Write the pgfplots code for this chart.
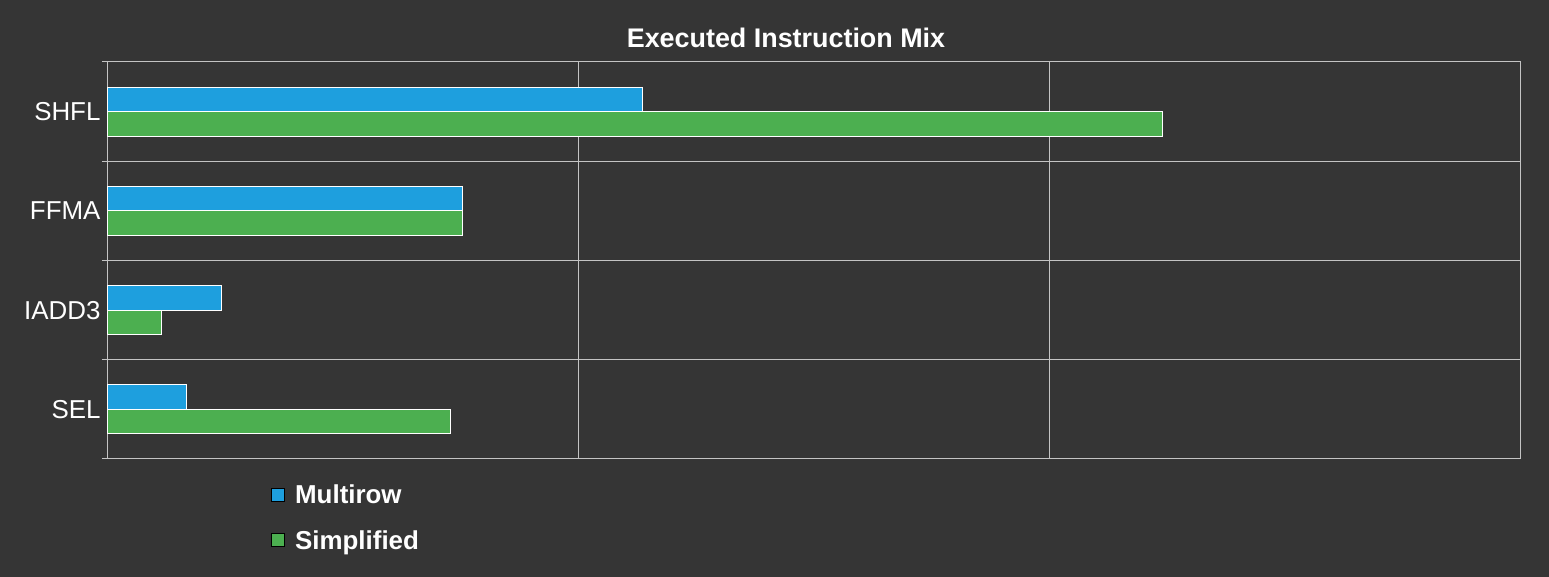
\documentclass[border=0pt]{standalone}
\usepackage{fontspec}
\setmainfont{Liberation Sans}
\usepackage{pgfplots}
\pgfplotsset{compat=1.18}
\definecolor{bg}{HTML}{353535}
\definecolor{mblue}{HTML}{1E9FDE}
\definecolor{mgreen}{HTML}{4CAF50}
\definecolor{gridc}{HTML}{C4C4C4}
\begin{document}
\begin{tikzpicture}
\fill[bg] (0,0) rectangle (1549bp,577bp);
\node[text=white, font=\fontsize{27}{32}\selectfont\bfseries] at (786bp,539bp) {Executed Instruction Mix};
\begin{axis}[at={(107bp,118bp)}, anchor=south west, scale only axis,
  width=1413bp, height=397bp,
  xbar, xmin=0, xmax=3, ymin=-0.5, ymax=3.5,
  xtick={1,2,3}, xticklabels={},
  ytick={0,1,2,3}, yticklabels={SEL,IADD3,FFMA,SHFL},
  minor ytick={-0.5,0.5,1.5,2.5,3.5},
  xmajorgrids=true, yminorgrids=true,
  grid style={gridc, line width=1bp},
  axis line style={gridc, line width=1bp},
  tick align=outside, tick pos=left,
  major tick length=0pt, minor tick length=5bp,
  every tick/.style={gridc, line width=1bp},
  yticklabel style={text=white, font=\fontsize{26}{30}\selectfont, xshift=-3bp},
  bar width=24.5bp,
  legend style={at={(0.114,-0.055)}, anchor=north west, draw=none, fill=none,
    text=white, font=\fontsize{26}{30}\selectfont\bfseries, row sep=21bp},
  legend cell align=left,
  legend image code/.code={\draw[#1,draw=black,line width=0.8bp] (0bp,-6.5bp) rectangle (13bp,6.5bp);\path (21bp,0bp);},
]
\addplot[fill=mblue, draw=white, line width=1bp, bar shift=12.25bp]
  coordinates {(1.136,3) (0.754,2) (0.244,1) (0.168,0)};
\addplot[fill=mgreen, draw=white, line width=1bp, bar shift=-12.25bp]
  coordinates {(2.240,3) (0.754,2) (0.115,1) (0.730,0)};
\legend{Multirow, Simplified}
\end{axis}
\end{tikzpicture}
\end{document}
